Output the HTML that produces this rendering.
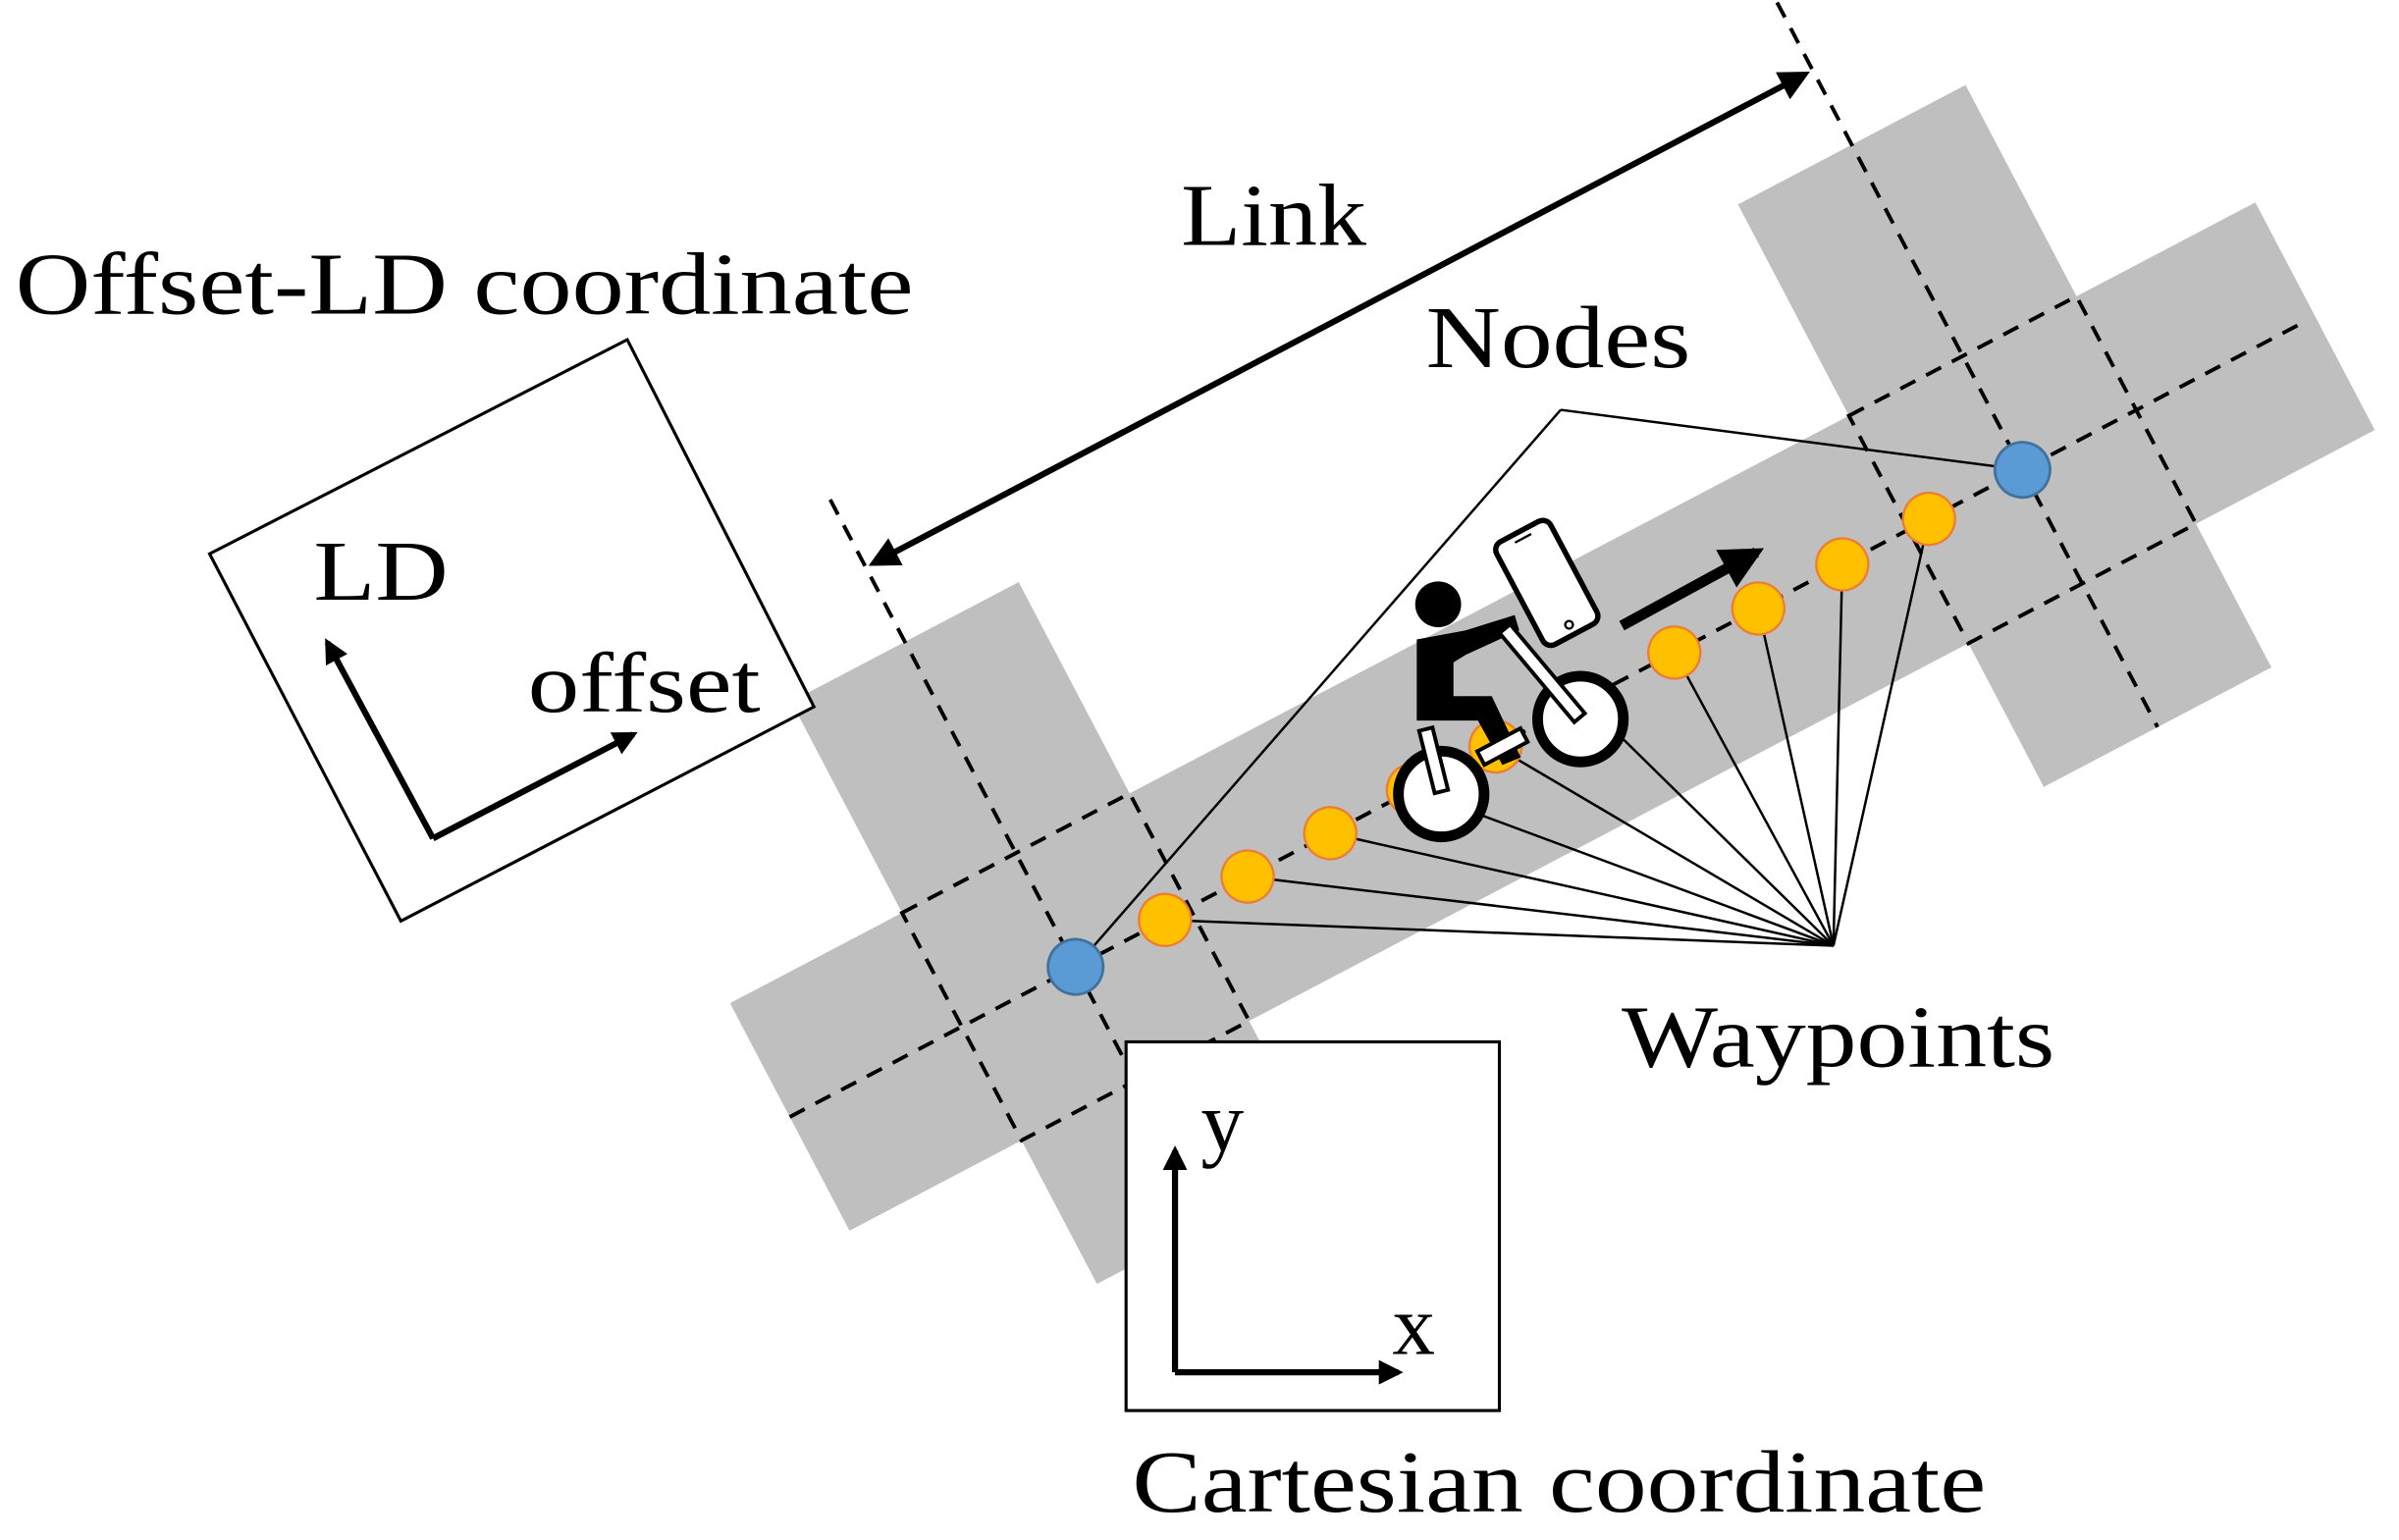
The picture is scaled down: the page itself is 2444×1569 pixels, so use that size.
<!DOCTYPE html>
<html><head><meta charset="utf-8"><style>
html,body{margin:0;padding:0;background:#fff;}
svg{display:block;}
text{font-family:"Liberation Serif",serif;fill:#000;}
</style></head><body>
<svg width="2444" height="1569" viewBox="0 0 1568 1006.6" xmlns="http://www.w3.org/2000/svg">
<defs>
<marker id="ah" viewBox="0 0 10 10" refX="8" refY="5" markerWidth="5" markerHeight="5" orient="auto-start-reverse" markerUnits="strokeWidth">
<path d="M0,0 L10,5 L0,10 z" fill="#000"/></marker>
<marker id="ah2" viewBox="0 0 10 10" refX="8" refY="5" markerWidth="4" markerHeight="4" orient="auto-start-reverse" markerUnits="strokeWidth">
<path d="M0,0 L10,5 L0,10 z" fill="#000"/></marker>
</defs>
<rect width="1568" height="1007" fill="#fff"/>

<g transform="translate(703,632) rotate(-27.7)">
  <!-- gray shapes -->
  <rect x="-211" y="-84" width="1126" height="168" fill="#BFBFBF"/>
  <rect x="-84" y="-240" width="168" height="430" fill="#BFBFBF"/>
  <rect x="615" y="-240" width="168" height="430" fill="#BFBFBF"/>
  <!-- dashed -->
  <g stroke="#000" stroke-width="2.5" stroke-dasharray="11,8" fill="none">
    <line x1="-211" y1="0" x2="905" y2="0"/>
    <line x1="0" y1="-345" x2="0" y2="190"/>
    <line x1="699" y1="-345" x2="699" y2="190"/>
    <rect x="-84" y="-84" width="168" height="168"/>
    <rect x="615" y="-84" width="168" height="168"/>
  </g>
  <!-- link arrow -->
  <line x1="6" y1="-295" x2="693" y2="-295" stroke="#000" stroke-width="4" marker-start="url(#ah)" marker-end="url(#ah)"/>
  <!-- waypoint lines -->
  <g stroke="#000" stroke-width="1.6">
    <line x1="66" y1="0" x2="445" y2="218"/>
    <line x1="127" y1="0" x2="445" y2="218"/>
    <line x1="188" y1="0" x2="445" y2="218"/>
    <line x1="249" y1="0" x2="445" y2="218"/>
    <line x1="310" y1="0" x2="445" y2="218"/>
    <line x1="375" y1="0" x2="445" y2="218"/>
    <line x1="442" y1="0" x2="445" y2="218"/>
    <line x1="504" y1="0" x2="445" y2="218"/>
    <line x1="566" y1="0" x2="445" y2="218"/>
    <line x1="630" y1="0" x2="445" y2="218"/>
    <line x1="0" y1="0" x2="450" y2="-175"/>
    <line x1="699" y1="0" x2="450" y2="-175"/>
  </g>
  <!-- waypoints -->
  <g fill="#FFC000" stroke="#ED7D31" stroke-width="1.5">
    <circle cx="66" cy="0" r="17"/>
    <circle cx="127" cy="0" r="17"/>
    <circle cx="188" cy="0" r="17"/>
    <circle cx="249" cy="0" r="17"/>
    <circle cx="310" cy="0" r="17"/>
    <circle cx="375" cy="0" r="17"/>
    <circle cx="442" cy="0" r="17"/>
    <circle cx="504" cy="0" r="17"/>
    <circle cx="566" cy="0" r="17"/>
    <circle cx="630" cy="0" r="17"/>
  </g>
  <g fill="#5B9BD5" stroke="#41719C" stroke-width="1.8">
    <circle cx="0" cy="0" r="18"/>
    <circle cx="699" cy="0" r="18"/>
  </g>
</g>

<!-- direction arrow -->
<line x1="1060" y1="409" x2="1148" y2="361" stroke="#000" stroke-width="7" marker-end="url(#ah2)"/>

<!-- bike -->
<g>
  <circle cx="940" cy="395" r="15" fill="#000"/>
  <!-- phone -->
  <g transform="translate(1011,381) rotate(-28)">
    <rect x="-20" y="-38" width="40" height="76" rx="6" fill="#fff" stroke="#000" stroke-width="3.5"/>
    <circle cx="0" cy="31" r="2.5" fill="#fff" stroke="#000" stroke-width="1.5"/>
    <line x1="-6" y1="-33" x2="6" y2="-33" stroke="#000" stroke-width="1.5"/>
  </g>
  <!-- torso -->
  <path d="M926,418 L958,412 L990,402 L993,412 L958,428 L950,433 L950,455 L975,455 L994,495 L982,500 L966,471 L926,471 Z" fill="#000"/>
  <!-- wheels -->
  <circle cx="1033" cy="470" r="28" fill="#fff" stroke="#000" stroke-width="7"/>
  <circle cx="942" cy="519" r="28" fill="#fff" stroke="#000" stroke-width="7"/>
  <!-- frame -->
  <g transform="translate(982,488) rotate(-28)">
    <rect x="-16" y="-5" width="32" height="10" fill="#fff" stroke="#000" stroke-width="2.5"/>
  </g>
  <!-- fork -->
  <g transform="translate(1008,440) rotate(-40)">
    <rect x="-4.5" y="-38" width="9" height="76" fill="#fff" stroke="#000" stroke-width="2.5"/>
  </g>
  <!-- seat post -->
  <g transform="translate(937,497) rotate(-14)">
    <rect x="-4.5" y="-21" width="9" height="42" fill="#fff" stroke="#000" stroke-width="2.5"/>
  </g>
</g>

<!-- Offset-LD box -->
<polygon points="137,362 410,222 532,462 262,602" fill="#fff" stroke="#000" stroke-width="2"/>
<line x1="283" y1="548" x2="214" y2="420" stroke="#000" stroke-width="4" marker-end="url(#ah2)"/>
<line x1="283" y1="548" x2="414" y2="480" stroke="#000" stroke-width="4" marker-end="url(#ah2)"/>
<text x="205" y="392" font-size="56" textLength="88" lengthAdjust="spacingAndGlyphs">LD</text>
<text x="345" y="465" font-size="56" textLength="152" lengthAdjust="spacingAndGlyphs">offset</text>

<!-- Cartesian box -->
<rect x="736" y="681" width="244" height="241" fill="#fff" stroke="#000" stroke-width="2"/>
<line x1="768" y1="897" x2="768" y2="752" stroke="#000" stroke-width="4" marker-end="url(#ah2)"/>
<line x1="768" y1="897" x2="914" y2="897" stroke="#000" stroke-width="4" marker-end="url(#ah2)"/>
<text x="785" y="752" font-size="56">y</text>
<text x="910" y="885" font-size="56">x</text>

<!-- labels -->
<text x="10" y="205" font-size="58" textLength="587" lengthAdjust="spacingAndGlyphs">Offset-LD coordinate</text>
<text x="772" y="160" font-size="58" textLength="121" lengthAdjust="spacingAndGlyphs">Link</text>
<text x="932" y="240" font-size="58" textLength="173" lengthAdjust="spacingAndGlyphs">Nodes</text>
<text x="1060" y="697" font-size="58" textLength="283" lengthAdjust="spacingAndGlyphs">Waypoints</text>
<text x="740" y="988" font-size="58" textLength="558" lengthAdjust="spacingAndGlyphs">Cartesian coordinate</text>
</svg>
</body></html>
